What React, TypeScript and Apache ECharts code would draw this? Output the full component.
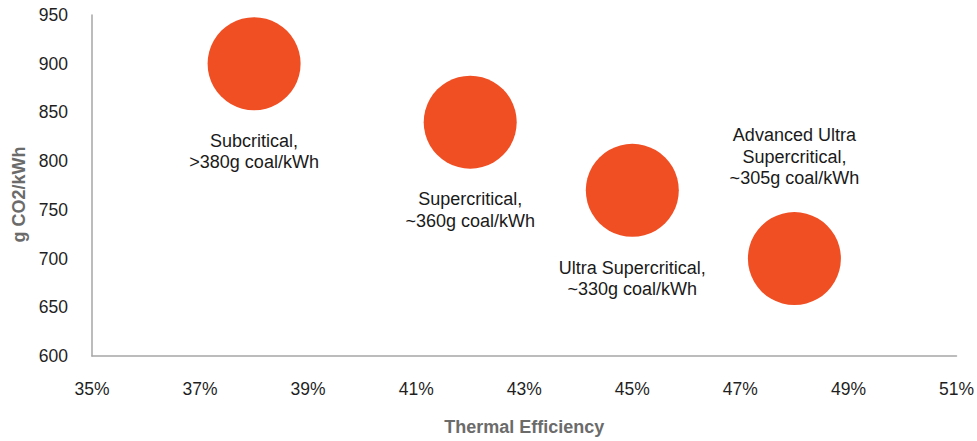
import React, { useEffect, useRef } from "react";
import * as echarts from "echarts";

// Coal plant technologies: thermal efficiency (%) vs CO2 intensity (g/kWh)
const technologies = [
  "Subcritical,\n>380g coal/kWh",
  "Supercritical,\n~360g coal/kWh",
  "Ultra Supercritical,\n~330g coal/kWh",
  "Advanced Ultra\nSupercritical,\n~305g coal/kWh",
];
const efficiency = [38, 42, 45, 48];
const co2 = [900, 840, 770, 700];
const labelAbove = [false, false, false, true];

const xTicks = { min: 35, max: 51, interval: 2 };
const yTicks = { min: 600, max: 950, interval: 50 };

const FONT = "'Liberation Sans', Arial, Helvetica, sans-serif";

export default function App() {
  const ref = useRef<HTMLDivElement>(null);

  useEffect(() => {
    if (!ref.current) return;
    const chart = echarts.init(ref.current, null, { renderer: "svg" });

    const data = efficiency.map((x, i) => ({
      value: [x, co2[i]],
      name: technologies[i],
      label: {
        position: labelAbove[i] ? "top" : "bottom",
        distance: labelAbove[i] ? 23 : 20,
      },
    }));

    chart.setOption({
      animation: false,
      textStyle: { fontFamily: FONT },
      grid: { left: 92, top: 15, width: 865, height: 346, containLabel: false },
      xAxis: {
        type: "value",
        min: xTicks.min,
        max: xTicks.max,
        interval: xTicks.interval,
        name: "Thermal Efficiency",
        nameLocation: "middle",
        nameGap: 62,
        nameTextStyle: { color: "#6b6b6b", fontWeight: "bold", fontSize: 18, fontFamily: FONT },
        axisLine: { show: true, lineStyle: { color: "#a6a6a6", width: 1.5 } },
        axisTick: { show: false },
        splitLine: { show: false },
        axisLabel: {
          color: "#1f1f1f",
          fontSize: 17.5,
          margin: 24,
          fontFamily: FONT,
          formatter: (v: number) => `${v}%`,
        },
      },
      yAxis: {
        type: "value",
        min: yTicks.min,
        max: yTicks.max,
        interval: yTicks.interval,
        name: "g CO2/kWh",
        nameLocation: "middle",
        nameGap: 64,
        nameTextStyle: {
          color: "#6b6b6b",
          fontWeight: "bold",
          fontSize: 18,
          fontFamily: FONT,
          padding: [0, 18, 0, 0],
        },
        axisLine: { show: true, lineStyle: { color: "#a6a6a6", width: 1.5 } },
        axisTick: { show: false },
        splitLine: { show: false },
        axisLabel: { color: "#1f1f1f", fontSize: 17.5, margin: 24, fontFamily: FONT },
      },
      series: [
        {
          type: "scatter",
          symbol: "circle",
          symbolSize: 93,
          itemStyle: { color: "#F04E23", opacity: 1 },
          label: {
            show: true,
            formatter: (p: any) => p.name,
            color: "#1a1a1a",
            fontSize: 18,
            lineHeight: 21.5,
            align: "center",
            fontFamily: FONT,
          },
          emphasis: { disabled: true },
          data,
        },
      ],
    });

    return () => chart.dispose();
  }, []);

  return (
    <div
      ref={ref}
      style={{ position: "absolute", left: 0, top: 0, width: 977, height: 441, background: "#ffffff" }}
    />
  );
}
